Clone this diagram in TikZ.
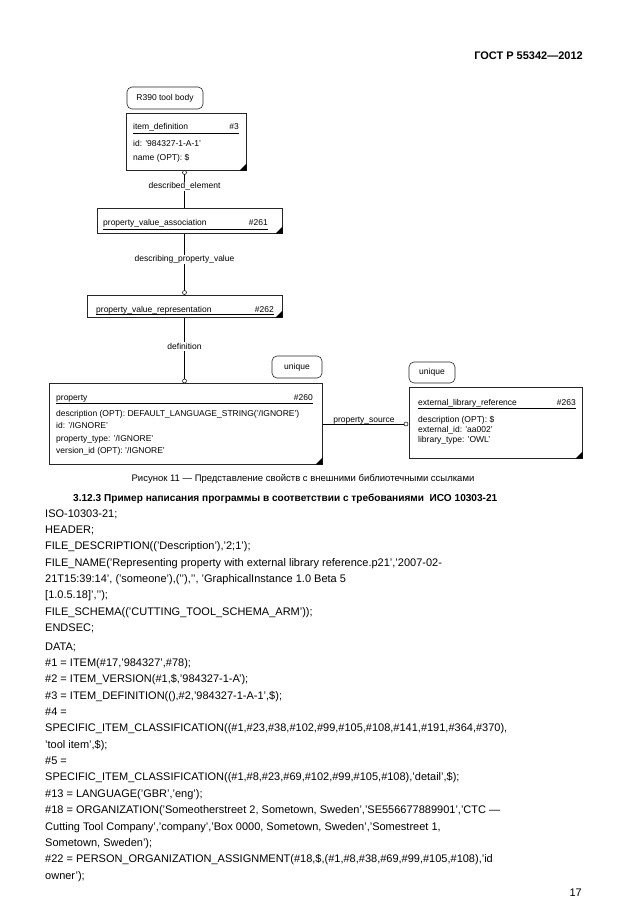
\documentclass[tikz,border=0pt]{standalone}
\usepackage{fontspec}
\setmainfont{Liberation Sans}
\begin{document}
\begin{tikzpicture}[x=1pt,y=-1pt,
  ebox/.style={draw=black!85,line width=0.6pt,fill=white,inner sep=0pt,anchor=north west},
  rbox/.style={draw=black!85,line width=0.6pt,rounded corners=5pt,inner sep=0pt,font=\fontsize{8.5}{10}\selectfont},
  dtxt/.style={inner sep=0pt,anchor=base west,font=\fontsize{8.5}{10}\selectfont},
  dnum/.style={inner sep=0pt,anchor=base east,font=\fontsize{8.5}{10}\selectfont},
  lbl/.style={inner sep=1pt,fill=white,font=\fontsize{8.5}{10}\selectfont},
  conn/.style={draw=black,line width=0.6pt},
  ring/.style={circle,draw=black,fill=white,line width=0.5pt,inner sep=0pt,minimum size=4pt},
  code/.style={inner sep=0pt,anchor=base west,font=\fontsize{11}{13}\selectfont},
  uline/.style={draw=black,line width=0.6pt}
]
\useasboundingbox (0,0) rectangle (630,913);
\fill[white] (0,0) rectangle (630,913);

% header
\node[inner sep=0pt,anchor=base east,font=\fontsize{11}{13}\selectfont\bfseries] (hdr) at (583,59) {ГОСТ Р 55342—2012};

% R390 tool body
\node[rbox,minimum width=76pt,minimum height=22pt] (r390) at (165,98) {R390 tool body};

% item_definition
\node[ebox,minimum width=120pt,minimum height=57pt] (itemdef) at (126,113) {};
\node[dtxt] (t3) at (133,129) {item\_definition};
\node[dnum] (n3) at (239,129) {\#3};
\draw[uline] (133,133) -- (239,133);
\node[dtxt] (a31) at (133,146) {id: '984327-1-A-1'};
\node[dtxt] (a32) at (133,160) {name (OPT): \$};
\fill (itemdef.south east) -- ++(-7,0) -- ++(7,-7) -- cycle;

% property_value_association
\node[ebox,minimum width=185pt,minimum height=25pt] (pva) at (97,208) {};
\node[dtxt] (t261) at (103,225) {property\_value\_association};
\node[dnum] (n261) at (268,225) {\#261};
\draw[uline] (103,229) -- (268,229);
\fill (pva.south east) -- ++(-7,0) -- ++(7,-7) -- cycle;

% property_value_representation
\node[ebox,minimum width=195pt,minimum height=22pt] (pvr) at (87,295) {};
\node[dtxt] (t262) at (96,312) {property\_value\_representation};
\node[dnum] (n262) at (274,312) {\#262};
\draw[uline] (96,314.5) -- (274,314.5);
\fill (pvr.south east) -- ++(-7,0) -- ++(7,-7) -- cycle;

% property
\node[rbox,minimum width=50pt,minimum height=22pt] (uq1) at (297,367) {unique};
\node[ebox,minimum width=273pt,minimum height=81pt] (prop) at (49,383) {};
\node[dtxt] (t260) at (56,400) {property};
\node[dnum] (n260) at (313,400) {\#260};
\draw[uline] (56,403.5) -- (313,403.5);
\node[dtxt] (p1) at (56,416) {description (OPT): DEFAULT\_LANGUAGE\_STRING('/IGNORE')};
\node[dtxt] (p2) at (56,428) {id: '/IGNORE'};
\node[dtxt] (p3) at (56,441) {property\_type: '/IGNORE'};
\node[dtxt] (p4) at (56,453) {version\_id (OPT): '/IGNORE'};
\fill (prop.south east) -- ++(-7,0) -- ++(7,-7) -- cycle;

% external_library_reference
\node[rbox,minimum width=46pt,minimum height=21pt] (uq2) at (432,372.5) {unique};
\node[ebox,minimum width=173pt,minimum height=71pt] (ext) at (409,387) {};
\node[dtxt] (t263) at (418,405) {external\_library\_reference};
\node[dnum] (n263) at (576,405) {\#263};
\draw[uline] (418,408) -- (576,408);
\node[dtxt] (e1) at (418,422.5) {description (OPT): \$};
\node[dtxt] (e2) at (418,432.5) {external\_id: 'aa002'};
\node[dtxt] (e3) at (418,442.5) {library\_type: 'OWL'};
\fill (ext.south east) -- ++(-7,0) -- ++(7,-7) -- cycle;

% connectors
\coordinate (c1) at (184.5,172.5);
\coordinate (c2) at (184.5,292.5);
\coordinate (c3) at (184.5,381);
\coordinate (c4) at (406,424);
\draw[conn] (c1) -- (c1 |- pva.north);
\node[ring] (r1) at (c1) {};
\node[lbl] (l1) at (184.5,186.5) {described\_element};
\draw[conn] (c2 |- pva.south) -- (c2);
\node[ring] (r2) at (c2) {};
\node[lbl] (l2) at (184.5,259.5) {describing\_property\_value};
\draw[conn] (c3 |- pvr.south) -- (c3);
\node[ring] (r3) at (c3) {};
\node[lbl] (l3) at (184.5,346.5) {definition};
\draw[conn] (prop.east |- c4) -- (c4);
\node[ring] (r4) at (c4) {};
\node[inner sep=0pt,anchor=base,font=\fontsize{8.5}{10}\selectfont] (l4) at (364,422.5) {property\_source};

% caption
\node[inner sep=0pt,anchor=base,font=\fontsize{9.5}{11}\selectfont] (cap) at (303,481.5) {Рисунок 11 — Представление свойств с внешними библиотечными ссылками};

% heading
\node[inner sep=0pt,anchor=base west,font=\fontsize{10.1}{12}\selectfont\bfseries] (hd) at (73,501) {3.12.3 Пример написания программы в соответствии с требованиями\ \ ИСО 10303-21};

% code
\node[code] (k1) at (45,517) {ISO-10303-21;};
\node[code] (k2) at (45,533) {HEADER;};
\node[code] (k3) at (45,549) {FILE\_DESCRIPTION(('Description'),'2;1');};
\node[code] (k4) at (45,566) {FILE\_NAME('Representing property with external library reference.p21','2007-02-};
\node[code] (k5) at (45,582) {21T15:39:14', ('someone'),('{}'),'{}', 'GraphicalInstance 1.0 Beta 5};
\node[code] (k6) at (45,598) {[1.0.5.18]','{}');};
\node[code] (k7) at (45,615) {FILE\_SCHEMA(('CUTTING\_TOOL\_SCHEMA\_ARM'));};
\node[code] (k8) at (45,631) {ENDSEC;};
\node[code] (k9) at (45,650) {DATA;};
\node[code] (k10) at (45,666) {\#1 = ITEM(\#17,'984327',\#78);};
\node[code] (k11) at (45,682) {\#2 = ITEM\_VERSION(\#1,\$,'984327-1-A');};
\node[code] (k12) at (45,699) {\#3 = ITEM\_DEFINITION((),\#2,'984327-1-A-1',\$);};
\node[code] (k13) at (45,715) {\#4 =};
\node[code] (k14) at (45,731) {SPECIFIC\_ITEM\_CLASSIFICATION((\#1,\#23,\#38,\#102,\#99,\#105,\#108,\#141,\#191,\#364,\#370),};
\node[code] (k15) at (45,748) {'tool item',\$);};
\node[code] (k16) at (45,764) {\#5 =};
\node[code] (k17) at (45,780) {SPECIFIC\_ITEM\_CLASSIFICATION((\#1,\#8,\#23,\#69,\#102,\#99,\#105,\#108),'detail',\$);};
\node[code] (k18) at (45,797) {\#13 = LANGUAGE('GBR','eng');};
\node[code] (k19) at (45,813) {\#18 = ORGANIZATION('Someotherstreet 2, Sometown, Sweden','SE556677889901','CTC —};
\node[code] (k20) at (45,830) {Cutting Tool Company','company','Box 0000, Sometown, Sweden','Somestreet 1,};
\node[code] (k21) at (45,846) {Sometown, Sweden');};
\node[code] (k22) at (45,862) {\#22 = PERSON\_ORGANIZATION\_ASSIGNMENT(\#18,\$,(\#1,\#8,\#38,\#69,\#99,\#105,\#108),'id};
\node[code] (k23) at (45,879) {owner');};

% page number
\node[inner sep=0pt,anchor=base east,font=\fontsize{11}{13}\selectfont] (pg) at (582,896) {17};
\end{tikzpicture}
\end{document}
